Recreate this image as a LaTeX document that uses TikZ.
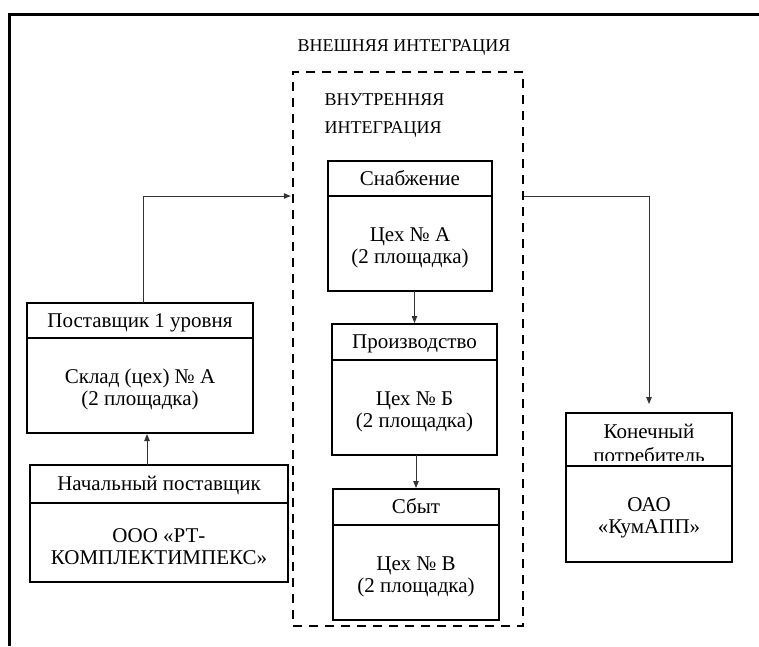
\documentclass[tikz,border=0pt]{standalone}
\usepackage{fontspec}
\setmainfont{Liberation Serif}
\usetikzlibrary{arrows.meta,positioning}
\tikzset{
  head/.style={draw, line width=2.5pt, outer sep=0pt, inner sep=0pt, text height=13pt, text depth=0pt, font=\fontsize{21}{22}\selectfont},
  body/.style={draw, line width=2.5pt, outer sep=0pt, inner sep=0pt, align=center, text height=44pt, font=\fontsize{21}{22}\selectfont},
  arr/.style={-{Triangle[length=7pt,width=5.5pt]}, line width=0.9pt, color=black!80, shorten >=1pt},
}

\begin{document}
\begin{tikzpicture}
\useasboundingbox (0pt,0pt) rectangle (759pt,-646pt);
\draw [line width=3pt] (9pt,-646pt) |- (759pt,-14pt);
\node (ext) [font=\fontsize{18}{22}\selectfont] at (404pt,-47pt) {ВНЕШНЯЯ ИНТЕГРАЦИЯ};
\node (inner) [draw, dash pattern=on 9pt off 7pt, line width=2.5pt, minimum width=230pt, minimum height=554pt] at (408pt,-349pt) {};
\node (int) [anchor=west, align=left, font=\fontsize{18}{28}\selectfont] at (321pt,-116pt) {ВНУТРЕННЯЯ\\ИНТЕГРАЦИЯ};
% left column
\node (p1h) [head, minimum width=226pt, minimum height=35pt] at (140pt,-320.5pt) {Поставщик 1 уровня};
\node (p1b) [body, minimum width=226pt, minimum height=95pt, below=0pt of p1h] {Склад (цех) № А\\(2 площадка)};
\node (p0h) [head, minimum width=258pt, minimum height=38pt] at (159pt,-484pt) {Начальный поставщик};
\node (p0b) [body, minimum width=258pt, minimum height=79pt, below=0pt of p0h] {ООО «РТ-\\КОМПЛЕКТИМПЕКС»};
% inner column
\node (s1h) [head, minimum width=164pt, minimum height=35pt] at (410pt,-178.5pt) {Снабжение};
\node (s1b) [body, minimum width=164pt, minimum height=95pt, below=0pt of s1h] {Цех № А\\(2 площадка)};
\node (s2h) [head, minimum width=165pt, minimum height=36pt] at (414.5pt,-342pt) {Производство};
\node (s2b) [body, minimum width=165pt, minimum height=95pt, below=0pt of s2h] {Цех № Б\\(2 площадка)};
\node (s3h) [head, minimum width=166pt, minimum height=36pt] at (416pt,-507pt) {Сбыт};
\node (s3b) [body, minimum width=166pt, minimum height=95pt, below=0pt of s3h] {Цех № В\\(2 площадка)};
% right column
\node (c1h) [head, minimum width=166pt, minimum height=53pt] at (649pt,-439.5pt) {};
\node (c1b) [body, minimum width=166pt, minimum height=96pt, below=0pt of c1h] {ОАО\\«КумАПП»};
\begin{scope}
\clip ([shift={(2pt,-2pt)}]c1h.north west) rectangle ([shift={(-2pt,5.5pt)}]c1h.south east);
\node (c1t) [anchor=base, font=\fontsize{21}{22}\selectfont] at (649pt,-438pt) {Конечный};
\node (c1u) [anchor=base, font=\fontsize{21}{22}\selectfont] at (649pt,-462pt) {потребитель};
\end{scope}
% arrows
\draw [arr] ([xshift=3pt]p1h.north) |- (s1h.south -| inner.west);
\draw [arr, shorten >=9pt] (s1h.south -| inner.east) -| (c1h.north);
\draw [arr] (s1b.south -| s2h.north) -- (s2h.north);
\draw [arr] (s2b.south -| s3h.north) -- (s3h.north);
\draw [arr] ([xshift=-12pt]p0h.north) -- ([xshift=-12pt]p0h.north |- p1b.south);
\end{tikzpicture}
\end{document}
